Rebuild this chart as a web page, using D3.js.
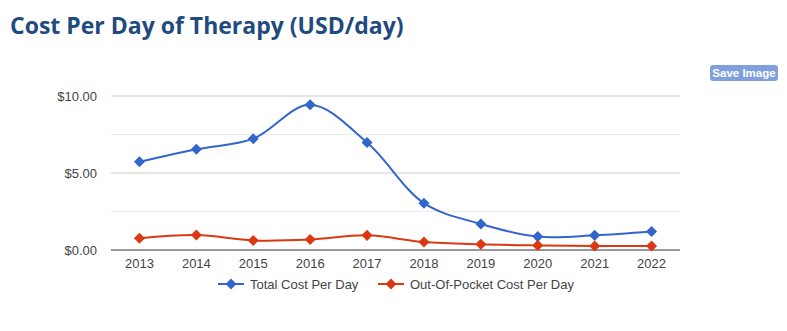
<!DOCTYPE html>
<html>
<head>
<meta charset="utf-8">
<script src="https://cdn.jsdelivr.net/npm/d3@7"></script>
<style>
	body { margin: 0; background: #fff; }
	#chart { display: block; }
	.title { font-family: 'Open Sans', sans-serif; font-weight: 700; font-size: 23px; fill: #1f4b80; }
	.tick text, .legend text { font-family: 'Liberation Sans', Arial, sans-serif; font-size: 13px; fill: #444; }
	.btn text { font-family: 'Liberation Sans', Arial, sans-serif; font-size: 11.5px; font-weight: 700; fill: #fff; }
</style>
</head>
<body>
<svg id="chart" width="787" height="331"></svg>
<script>
const years = ['2013', '2014', '2015', '2016', '2017', '2018', '2019', '2020', '2021', '2022']
const totalCost = [5.73, 6.54, 7.23, 9.43, 6.98, 3.04, 1.69, 0.87, 0.95, 1.2]
const outOfPocket = [0.76, 0.97, 0.62, 0.68, 0.95, 0.52, 0.37, 0.3, 0.26, 0.26]
const yTicks = [0, 5, 10]
const yMinorTicks = [2.5, 7.5]

const seriesList = [
	{ label: 'Total Cost Per Day', values: totalCost, color: '#3366cc' },
	{ label: 'Out-Of-Pocket Cost Per Day', values: outOfPocket, color: '#dc3912' }
]

const svg = d3.select('#chart')

const plotLeft = 111, plotRight = 680, plotTop = 96, plotBottom = 250

const x = d3.scaleBand().domain(years).range([plotLeft, plotRight])
const y = d3.scaleLinear().domain([0, 10]).range([plotBottom, plotTop])

svg.append('text')
	.attr('class', 'title')
	.attr('x', 10)
	.attr('y', 34)
	.text('Cost Per Day of Therapy (USD/day)')

// save button
const btn = svg.append('g').attr('class', 'btn')
btn.append('rect')
	.attr('x', 710).attr('y', 65)
	.attr('width', 68).attr('height', 16)
	.attr('rx', 3)
	.attr('fill', '#7f9fdf')
btn.append('text')
	.attr('x', 744).attr('y', 77)
	.attr('text-anchor', 'middle')
	.text('Save Image')

// gridlines
svg.append('g')
	.selectAll('line')
	.data(yMinorTicks)
	.join('line')
	.attr('x1', plotLeft).attr('x2', plotRight)
	.attr('y1', d => y(d)).attr('y2', d => y(d))
	.attr('stroke', '#ebebeb')

svg.append('g')
	.selectAll('line')
	.data(yTicks.filter(d => d > 0))
	.join('line')
	.attr('x1', plotLeft).attr('x2', plotRight)
	.attr('y1', d => y(d)).attr('y2', d => y(d))
	.attr('stroke', '#cccccc')

const yAxis = svg.append('g')
	.attr('transform', `translate(${plotLeft - 14},0)`)
	.call(d3.axisLeft(y).tickValues(yTicks).tickSize(0).tickPadding(0).tickFormat(d => '$' + d.toFixed(2)))
yAxis.select('.domain').remove()
yAxis.selectAll('text').attr('dy', '0.35em')

const xAxis = svg.append('g')
	.attr('transform', `translate(0,${plotBottom})`)
	.call(d3.axisBottom(x).tickSize(0).tickPadding(9))
xAxis.select('.domain').remove()

svg.append('line')
	.attr('x1', plotLeft).attr('x2', plotRight)
	.attr('y1', y(0)).attr('y2', y(0))
	.attr('stroke', '#333')

const line = d3.line()
	.x((d, i) => x(years[i]) + x.bandwidth() / 2)
	.y(d => y(d))
	.curve(d3.curveCatmullRom.alpha(0.5))

const diamond = d3.symbol().type(d3.symbolDiamond2).size(78)

seriesList.forEach(s => {
	svg.append('path')
		.datum(s.values)
		.attr('d', line)
		.attr('fill', 'none')
		.attr('stroke', s.color)
		.attr('stroke-width', 2)

	svg.append('g')
		.selectAll('path')
		.data(s.values)
		.join('path')
		.attr('d', diamond)
		.attr('transform', (d, i) => `translate(${x(years[i]) + x.bandwidth() / 2},${y(d)})`)
		.attr('fill', s.color)
})

// legend
const legendX = [218, 378]
const legend = svg.append('g').attr('class', 'legend')
seriesList.forEach((s, i) => {
	const g = legend.append('g').attr('transform', `translate(${legendX[i]},284)`)
	g.append('line').attr('x1', 0).attr('x2', 26).attr('stroke', s.color).attr('stroke-width', 2)
	g.append('path').attr('d', diamond).attr('transform', 'translate(13,0)').attr('fill', s.color)
	g.append('text').attr('x', 32).attr('dy', '0.35em').text(s.label)
})
</script>
</body>
</html>
